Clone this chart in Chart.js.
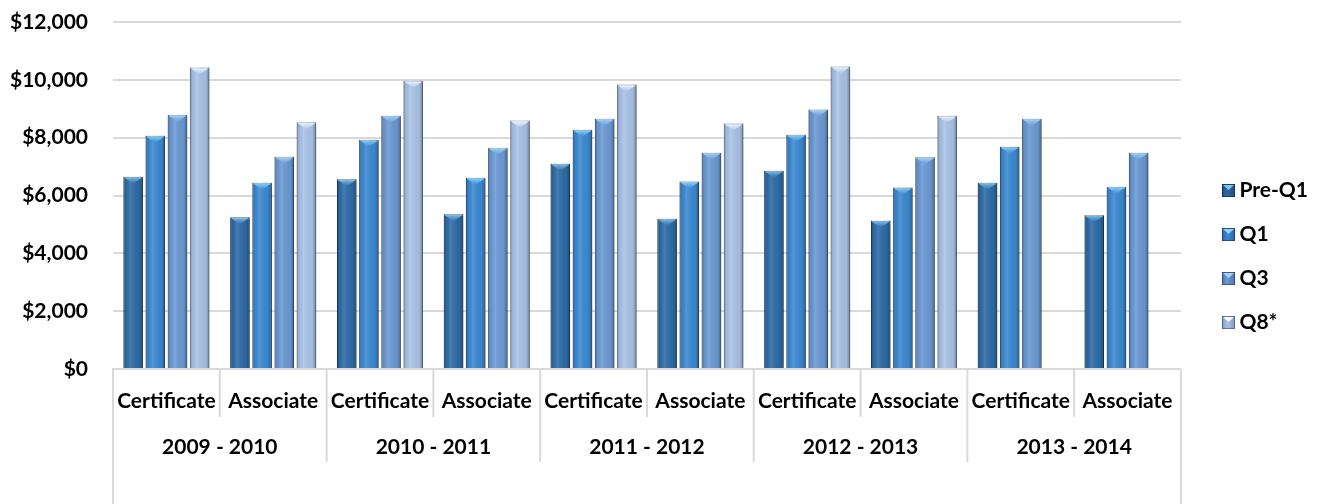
<!DOCTYPE html>
<html>
<head>
<meta charset="utf-8">
<script src="https://cdn.jsdelivr.net/npm/chart.js@4/dist/chart.umd.min.js"></script>
<style>
  html, body { margin: 0; padding: 0; background: #fff; }
  #wrap { width: 1324px; height: 504px; }
</style>
</head>
<body>
<div id="wrap"><canvas id="costChart"></canvas></div>
<script>
// award types per year, and the year groups under them
const types = ['Certificate', 'Associate', 'Certificate', 'Associate', 'Certificate',
               'Associate', 'Certificate', 'Associate', 'Certificate', 'Associate'];
const years = ['2009 - 2010', '2010 - 2011', '2011 - 2012', '2012 - 2013', '2013 - 2014'];

const seriesNames = ['Pre-Q1', 'Q1', 'Q3', 'Q8*'];
const preQ1 = [6650, 5245, 6560, 5350, 7100, 5200, 6860, 5130, 6440, 5320];
const q1    = [8070, 6440, 7930, 6610, 8270, 6480, 8100, 6280, 7690, 6300];
const q3    = [8790, 7340, 8760, 7650, 8650, 7480, 8970, 7320, 8650, 7480];
const q8    = [10430, 8530, 9970, 8590, 9840, 8490, 10460, 8760, null, null];

const yTicks = [0, 2000, 4000, 6000, 8000, 10000, 12000];

const fills  = ['#2d6ca7', '#3b89d2', '#6b9ad5', '#a9c3e7'];
const edges  = ['#1f4f7e', '#2a69a8', '#4d77ad', '#7f9cc4'];
const tips   = ['#7cc6ef', '#8bd5f8', '#9fd6f6', '#f4f8fd'];

const FONT = { family: 'Lato, "Open Sans", sans-serif', size: 21, weight: 'bold' };

// little bevelled squares for the legend (transparent on the left to nudge them right)
function swatch(i) {
  const c = document.createElement('canvas');
  c.width = 37; c.height = 13;
  const g = c.getContext('2d');
  const sx = c.width - 13;
  const lg = g.createLinearGradient(sx, 0, sx + 13, 0);
  lg.addColorStop(0, edges[i]); lg.addColorStop(0.4, fills[i]); lg.addColorStop(1, edges[i]);
  g.fillStyle = lg;
  g.fillRect(sx, 0, 13, 13);
  g.fillStyle = tips[i];
  g.beginPath(); g.moveTo(sx + 1, 1); g.lineTo(sx + 12, 1); g.lineTo(sx + 6.5, 6); g.closePath(); g.fill();
  g.strokeStyle = 'rgba(0,0,0,0.35)'; g.lineWidth = 1;
  g.strokeRect(sx + 0.5, 0.5, 12, 12);
  return c;
}
const swatches = seriesNames.map((_, i) => swatch(i));

// soft drop shadow behind the bars
const barShadow = {
  id: 'barShadow',
  beforeDatasetsDraw(chart) {
    const ctx = chart.ctx;
    ctx.save();
    ctx.shadowColor = 'rgba(0,0,0,0.28)';
    ctx.shadowBlur = 4;
    ctx.shadowOffsetX = 2;
    ctx.shadowOffsetY = 1;
  },
  afterDatasetsDraw(chart) {
    chart.ctx.restore();
  }
};

// shading across each bar and the pointed highlight at its top
const barBevel = {
  id: 'barBevel',
  afterDatasetsDraw(chart) {
    const ctx = chart.ctx;
    ctx.save();
    chart.data.datasets.forEach((ds, di) => {
      const meta = chart.getDatasetMeta(di);
      meta.data.forEach((bar, i) => {
        if (ds.data[i] == null) return;
        const { x, y, base, width } = bar.getProps(['x', 'y', 'base', 'width'], true);
        const l = x - width / 2, r = x + width / 2;
        const g = ctx.createLinearGradient(l, 0, r, 0);
        g.addColorStop(0, 'rgba(0,0,0,0.30)');
        g.addColorStop(0.12, 'rgba(0,0,0,0.06)');
        g.addColorStop(0.35, 'rgba(255,255,255,0.12)');
        g.addColorStop(0.8, 'rgba(0,0,0,0.04)');
        g.addColorStop(1, 'rgba(0,0,0,0.32)');
        ctx.fillStyle = g;
        ctx.fillRect(l, y, width, base - y);

        const d = width * 0.36;
        const tg = ctx.createLinearGradient(0, y, 0, y + d);
        tg.addColorStop(0, tips[di]);
        tg.addColorStop(1, fills[di]);
        ctx.fillStyle = tg;
        ctx.beginPath();
        ctx.moveTo(l + 1, y + 1);
        ctx.lineTo(r - 1, y + 1);
        ctx.lineTo(x, y + d);
        ctx.closePath();
        ctx.fill();
        ctx.fillStyle = 'rgba(255,255,255,0.35)';
        ctx.fillRect(l + 1, y, width - 2, 1.2);
      });
    });
    ctx.restore();
  }
};

// vertical separators between types, years and the outer frame
const dividers = {
  id: 'dividers',
  afterDraw(chart) {
    const x = chart.scales.x, x2 = chart.scales.x2, ctx = chart.ctx;
    const n = types.length;
    const step = (x.right - x.left) / n;
    ctx.save();
    ctx.strokeStyle = '#d9d9d9';
    ctx.lineWidth = 2;
    for (let i = 0; i <= n; i++) {
      const px = x.left + i * step;
      let bottom;
      if (i === 0 || i === n) bottom = chart.height;
      else if (i % 2 === 0) bottom = x2.top + 45;
      else bottom = x.bottom;
      ctx.beginPath();
      ctx.moveTo(px, x.top);
      ctx.lineTo(px, bottom);
      ctx.stroke();
    }
    ctx.restore();
  }
};

new Chart(document.getElementById('costChart'), {
  type: 'bar',
  data: {
    labels: types,
    datasets: seriesNames.map((name, i) => ({
      label: name,
      data: [preQ1, q1, q3, q8][i],
      backgroundColor: fills[i],
      borderColor: edges[i],
      borderWidth: 1,
      categoryPercentage: 0.83,
      barPercentage: 0.88
    }))
  },
  options: {
    responsive: true,
    maintainAspectRatio: false,
    animation: false,
    layout: { padding: { top: 22, right: 6, bottom: 13, left: 0 } },
    plugins: {
      tooltip: { enabled: false },
      legend: {
        position: 'right',
        labels: {
          usePointStyle: true,
          pointStyleWidth: 25,
          padding: 23,
          color: '#000',
          font: FONT,
          generateLabels(chart) {
            return chart.data.datasets.map((ds, i) => ({
              text: ds.label,
              pointStyle: swatches[i],
              fillStyle: fills[i],
              strokeStyle: 'transparent',
              lineWidth: 0,
              fontColor: '#000',
              hidden: false,
              datasetIndex: i
            }));
          }
        }
      }
    },
    scales: {
      x: {
        type: 'category',
        weight: 0,
        offset: true,
        grid: { display: false, drawTicks: false },
        border: { display: true, color: '#d9d9d9', width: 2 },
        ticks: {
          color: '#000', font: FONT, padding: 20,
          autoSkip: false, maxRotation: 0, minRotation: 0
        },
        afterFit(scale) { scale.height = 48; }
      },
      x2: {
        type: 'category',
        position: 'bottom',
        weight: 1,
        offset: true,
        labels: years,
        grid: { display: false, drawTicks: false },
        border: { display: false },
        ticks: {
          color: '#000', font: FONT, padding: 18,
          autoSkip: false, maxRotation: 0, minRotation: 0
        },
        afterFit(scale) { scale.height = 74; }
      },
      y: {
        min: 0,
        max: 12000,
        afterBuildTicks(scale) { scale.ticks = yTicks.map(v => ({ value: v })); },
        grid: { color: '#d9d9d9', lineWidth: 2, drawTicks: false },
        border: { display: false },
        ticks: {
          color: '#000', font: FONT, padding: 25,
          callback: v => '$' + v.toLocaleString('en-US')
        },
        afterFit(scale) {
          scale.width = 113;
          // only half a label is needed above and below the axis
          scale.paddingTop = 12;
          scale.paddingBottom = 12;
        }
      }
    }
  },
  plugins: [barShadow, barBevel, dividers]
});
</script>
</body>
</html>
